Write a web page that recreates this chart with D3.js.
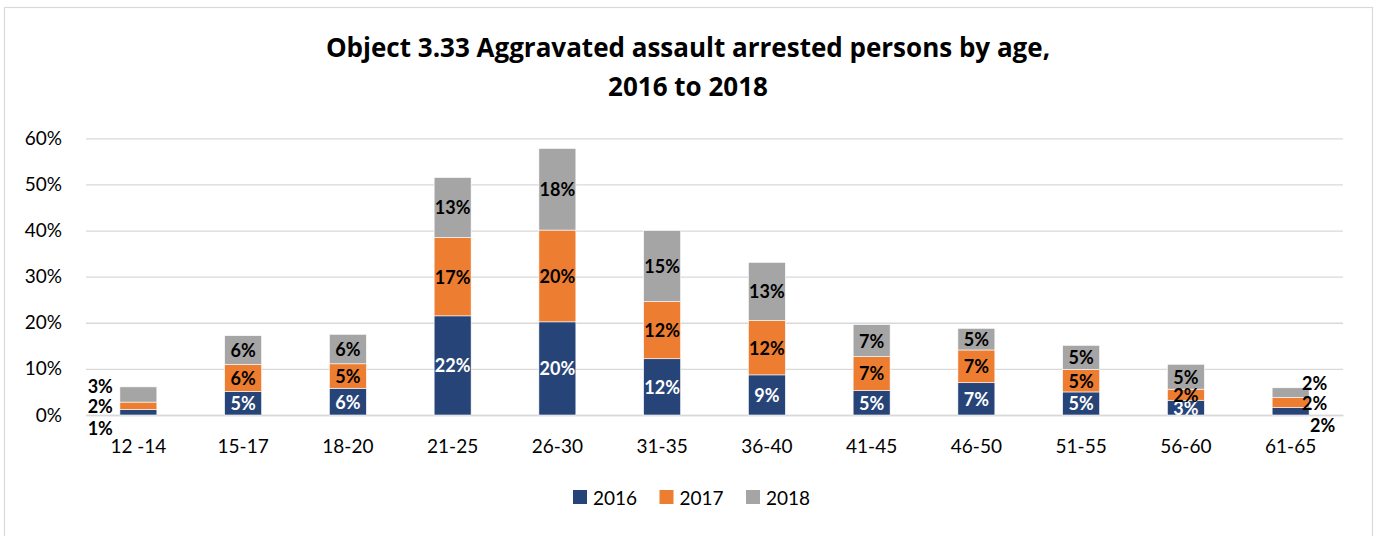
<!DOCTYPE html>
<html>
<head>
<meta charset="utf-8">
<script src="https://cdn.jsdelivr.net/npm/d3@7"></script>
<style>
  html, body { margin: 0; padding: 0; background: #fff; }
  svg { display: block; font-family: Lato, "Open Sans", sans-serif; }
</style>
</head>
<body>
<svg id="chart" width="1380" height="536"></svg>
<script>
// Age bands and the share of arrested persons per year (fractions)
const categories = ["12 -14", "15-17", "18-20", "21-25", "26-30", "31-35", "36-40", "41-45", "46-50", "51-55", "56-60", "61-65"];
const series = ["2016", "2017", "2018"];
const values2016 = [0.012, 0.051, 0.058, 0.215, 0.202, 0.122, 0.087, 0.053, 0.070, 0.050, 0.032, 0.016];
const values2017 = [0.016, 0.059, 0.053, 0.170, 0.199, 0.124, 0.118, 0.074, 0.071, 0.049, 0.024, 0.022];
const values2018 = [0.033, 0.062, 0.064, 0.130, 0.177, 0.154, 0.126, 0.069, 0.047, 0.052, 0.054, 0.021];
const yTicks = [0, 0.1, 0.2, 0.3, 0.4, 0.5, 0.6];
const titleLines = ["Object 3.33 Aggravated assault arrested persons by age,", "2016 to 2018"];

const colors = { "2016": "#264478", "2017": "#ED7D31", "2018": "#A5A5A5" };
const labelColors = { "2016": "#ffffff", "2017": "#000000", "2018": "#000000" };

const rows = categories.map((c, i) => ({
  category: c, "2016": values2016[i], "2017": values2017[i], "2018": values2018[i]
}));

const svg = d3.select("#chart");

// outer frame
svg.append("rect")
  .attr("x", 4.5).attr("y", 7.5).attr("width", 1368).attr("height", 540)
  .attr("fill", "#fff").attr("stroke", "#d9d9d9").attr("stroke-width", 1.2);

// title
svg.append("g").selectAll("text").data(titleLines).join("text")
  .attr("x", 688).attr("y", (d, i) => 57 + i * 39)
  .attr("text-anchor", "middle")
  .attr("font-family", "'Open Sans', sans-serif")
  .attr("font-size", 26).attr("font-weight", 700).attr("fill", "#000")
  .text(d => d);

const x = d3.scaleBand().domain(categories).range([86, 1343])
  .paddingInner(0.647).paddingOuter(0.3235);
const y = d3.scaleLinear().domain([0, 0.6]).range([415, 138.3]);

// gridlines + y labels
const yAxis = d3.axisLeft(y).tickValues(yTicks).tickFormat(d3.format(".0%"))
  .tickSize(-(1343 - 86)).tickPadding(24);
const gy = svg.append("g").attr("transform", "translate(86,0)").call(yAxis);
gy.select(".domain").remove();
gy.selectAll(".tick line").attr("stroke", "#d9d9d9").attr("stroke-width", 1.3);
gy.selectAll(".tick text").attr("font-size", 19).attr("fill", "#000")
  .attr("font-family", "Lato, sans-serif");

// x axis category labels
const xAxis = d3.axisBottom(x).tickSize(0).tickPadding(25);
const gx = svg.append("g").attr("transform", "translate(0,415)").call(xAxis);
gx.select(".domain").attr("stroke", "#d9d9d9").attr("stroke-width", 1.3);
gx.selectAll(".tick text").attr("font-size", 19).attr("fill", "#000")
  .attr("font-family", "Lato, sans-serif");

// stacked bars
const stack = d3.stack().keys(series);
const layers = stack(rows);

const g = svg.append("g");
layers.forEach(layer => {
  g.append("g").attr("fill", colors[layer.key])
    .selectAll("rect").data(layer).join("rect")
    .attr("x", d => x(d.data.category))
    .attr("width", x.bandwidth())
    .attr("y", d => y(d[1]))
    .attr("height", d => y(d[0]) - y(d[1]))
    .attr("stroke", "#ffffff").attr("stroke-width", 0.6);
});

// value labels; the narrow end bars carry their labels beside the bar
const fmt = d3.format(".0%");
const lastIdx = categories.length - 1;
layers.forEach(layer => {
  const key = layer.key;
  g.append("g").selectAll("text").data(layer).join("text")
    .each(function (d, i) {
      const t = d3.select(this);
      const x0 = x(d.data.category), bw = x.bandwidth();
      let px = x0 + bw / 2, py = (y(d[0]) + y(d[1])) / 2, anchor = "middle", fill = labelColors[key];
      if (i === 0 || i === lastIdx) {
        fill = "#000";
        const orangeMid = (y(layers[1][i][0]) + y(layers[1][i][1])) / 2;
        if (key === "2016") py = y(0) + (i === 0 ? 13 : 10);
        else if (key === "2017") py = orangeMid;
        else py = orangeMid - 20;
        if (i === 0) { anchor = "end"; px = x0 - 7; }
        else { anchor = "start"; px = key === "2016" ? x0 + bw + 1 : x0 + bw - 7; }
      }
      t.attr("x", px).attr("y", py).attr("text-anchor", anchor)
        .attr("dominant-baseline", "central")
        .attr("font-size", 18).attr("font-weight", 700).attr("fill", fill)
        .text(fmt(d.data[key]));
    });
});

// legend
const legend = svg.append("g").attr("transform", "translate(573,497)");
const items = legend.selectAll("g").data(series).join("g")
  .attr("transform", (d, i) => `translate(${i * 86.5},0)`);
items.append("rect").attr("x", 0).attr("y", -7).attr("width", 14).attr("height", 14)
  .attr("fill", d => colors[d]);
items.append("text").attr("x", 20).attr("y", 0).attr("dominant-baseline", "central")
  .attr("font-size", 19).attr("fill", "#000").text(d => d);
</script>
</body>
</html>
